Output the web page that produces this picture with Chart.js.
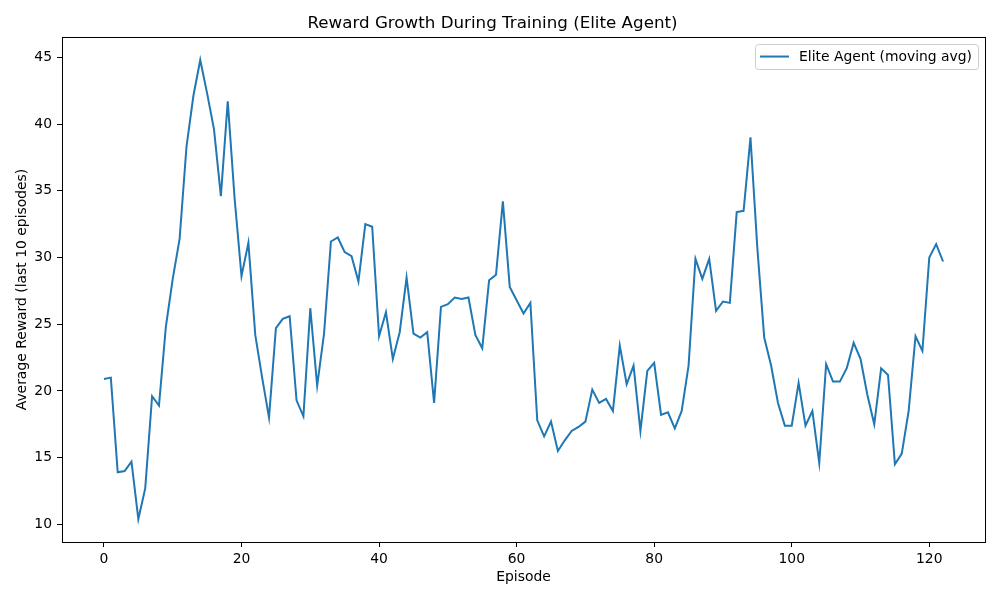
<!DOCTYPE html>
<html>
<head>
<meta charset="utf-8">
<title>Reward Growth During Training (Elite Agent)</title>
<script src="https://cdn.jsdelivr.net/npm/chart.js@4.4.1/dist/chart.umd.min.js"></script>
<style>
  html, body { margin: 0; padding: 0; background: #fff; }
  #wrap { width: 1000px; height: 600px; position: relative; }
</style>
</head>
<body>
<div id="wrap"><canvas id="rewardChart"></canvas></div>
<script>
// episode-wise moving average
const episodes = Array.from({ length: 123 }, (_, i) => i);
const rewards = [
  20.9, 21.0, 13.9, 14.0, 14.7, 10.4, 12.7, 19.6, 18.9, 24.8,
  28.4, 31.4, 38.3, 42.1, 44.8, 42.3, 39.6, 34.6, 41.7, 34.4,
  28.6, 31.1, 24.2, 21.0, 18.0, 24.7, 25.4, 25.6, 19.3, 18.1,
  26.2, 20.4, 24.3, 31.2, 31.5, 30.4, 30.1, 28.2, 32.5, 32.3,
  24.1, 25.9, 22.4, 24.4, 28.5, 24.3, 24.0, 24.4, 19.1, 26.3,
  26.5, 27.0, 26.9, 27.0, 24.2, 23.2, 28.3, 28.7, 34.2, 27.8,
  26.8, 25.8, 26.6, 17.8, 16.6, 17.7, 15.5, 16.3, 17.0, 17.3,
  17.7, 20.1, 19.1, 19.4, 18.5, 23.4, 20.5, 21.9, 17.0, 21.5,
  22.1, 18.2, 18.4, 17.2, 18.5, 21.9, 29.9, 28.4, 29.9, 26.0,
  26.7, 26.6, 33.4, 33.5, 39.0, 30.7, 24.0, 21.9, 19.1, 17.4,
  17.4, 20.6, 17.4, 18.5, 14.6, 22.0, 20.7, 20.7, 21.7, 23.6,
  22.4, 19.7, 17.5, 21.7, 21.2, 14.5, 15.3, 18.5, 24.1, 23.0,
  30.0, 31.0, 29.7
];
const xTicks = [0, 20, 40, 60, 80, 100, 120];
const yTicks = [10, 15, 20, 25, 30, 35, 40, 45];

const FONT = 'DejaVu Sans';
const SMALL = 13.9;

// axes frame like matplotlib spines
const framePlugin = {
  id: 'frame',
  afterDraw(chart) {
    const { ctx, chartArea: a } = chart;
    ctx.save();
    ctx.strokeStyle = '#000';
    ctx.lineWidth = 1;
    ctx.strokeRect(Math.round(a.left) + 0.5, Math.round(a.top) + 0.5,
      Math.round(a.right - a.left), Math.round(a.bottom - a.top));
    ctx.restore();
  }
};

// legend box in the upper right corner of the plot
const legendBox = {
  id: 'legendBox',
  afterDraw(chart) {
    const { ctx, chartArea: a } = chart;
    const ds = chart.data.datasets[0];
    ctx.save();
    ctx.font = `${SMALL}px "${FONT}"`;
    const tw = ctx.measureText(ds.label).width;
    const w = tw + 50, h = 25;
    const x = a.right - 7 - w, y = a.top + 7;
    ctx.beginPath();
    ctx.roundRect(x + 0.5, y + 0.5, w, h, 3);
    ctx.fillStyle = 'rgba(255,255,255,0.8)';
    ctx.fill();
    ctx.strokeStyle = '#cccccc';
    ctx.lineWidth = 1;
    ctx.stroke();
    ctx.beginPath();
    ctx.moveTo(x + 5, y + 12.5);
    ctx.lineTo(x + 34, y + 12.5);
    ctx.strokeStyle = ds.borderColor;
    ctx.lineWidth = 2;
    ctx.stroke();
    ctx.fillStyle = '#000';
    ctx.textBaseline = 'middle';
    ctx.fillText(ds.label, x + 44, y + 13);
    ctx.restore();
  }
};

new Chart(document.getElementById('rewardChart'), {
  type: 'line',
  data: {
    datasets: [{
      label: 'Elite Agent (moving avg)',
      data: episodes.map((e, i) => ({ x: e, y: rewards[i] })),
      borderColor: '#1f77b4',
      borderWidth: 2,
      pointRadius: 0,
      tension: 0,
      fill: false,
    }],
  },
  options: {
    responsive: true,
    maintainAspectRatio: false,
    animation: false,
    layout: { padding: { left: 0, right: 15, top: 0, bottom: 0 } },
    plugins: {
      legend: { display: false },
      tooltip: { enabled: false },
      title: {
        display: true,
        text: 'Reward Growth During Training (Elite Agent)',
        color: '#000',
        font: { family: FONT, size: 16.7, weight: 'normal' },
        padding: { top: 14, bottom: 3 },
      },
    },
    scales: {
      x: {
        type: 'linear',
        min: -6.1,
        max: 128.1,
        afterBuildTicks: (s) => { s.ticks = xTicks.map((v) => ({ value: v })); },
        afterFit: (s) => { s.height = 58; },
        grid: { drawOnChartArea: false, drawTicks: true, tickLength: 5, color: '#000' },
        border: { display: false },
        ticks: { color: '#000', padding: 4, maxRotation: 0, font: { family: FONT, size: SMALL } },
        title: {
          display: true,
          text: 'Episode',
          color: '#000',
          font: { family: FONT, size: SMALL },
          padding: { top: 0, bottom: 14 },
        },
      },
      y: {
        type: 'linear',
        min: 8.68,
        max: 46.52,
        afterBuildTicks: (s) => { s.ticks = yTicks.map((v) => ({ value: v })); },
        afterFit: (s) => { s.width = 62; },
        grid: { drawOnChartArea: false, drawTicks: true, tickLength: 5, color: '#000' },
        border: { display: false },
        ticks: { color: '#000', padding: 5, font: { family: FONT, size: SMALL } },
        title: {
          display: true,
          text: 'Average Reward (last 10 episodes)',
          color: '#000',
          font: { family: FONT, size: SMALL },
          padding: { top: 14, bottom: 0 },
        },
      },
    },
  },
  plugins: [framePlugin, legendBox],
});
</script>
</body>
</html>
